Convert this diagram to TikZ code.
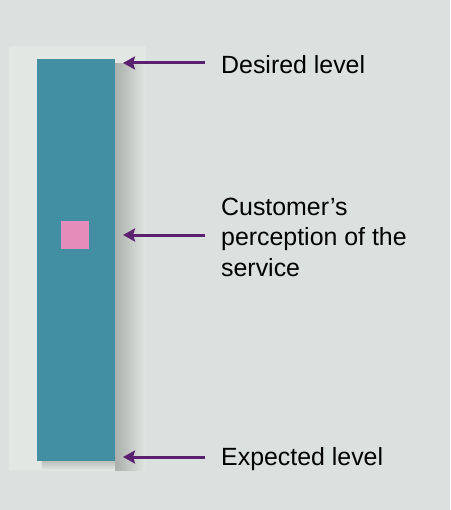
\documentclass[tikz,border=0pt]{standalone}
\usepackage{fontspec}
\setmainfont{Liberation Sans}
\usetikzlibrary{arrows.meta}
\definecolor{bg}{HTML}{DCE0DF}
\definecolor{panel}{HTML}{E3E7E4}
\definecolor{barc}{HTML}{428EA2}
\definecolor{pinkc}{HTML}{E48DBA}
\definecolor{arrc}{HTML}{5B2170}
\definecolor{shad}{HTML}{AAAFAB}
\tikzset{
  lvlarrow/.style={draw=arrc, line width=3pt, -{Stealth[length=12pt,width=13pt,inset=2pt]}},
  lbl/.style={anchor=west, inner sep=0pt, font=\fontsize{24.9}{30.5}\selectfont, align=left, text=black}
}
\begin{document}
\begin{tikzpicture}[x=1pt,y=-1pt]
\fill[bg] (0,0) rectangle (450,510);
\useasboundingbox (0,0) rectangle (450,510);
\fill[panel] (9,46) rectangle (146,470);
% shadow
\shade[left color=shad, right color=panel] (115,64) rectangle (146,470);
\shade[top color=shad!70!panel, bottom color=panel] (42,461) rectangle (115,470);
\node[fill=barc, draw=none, minimum width=78pt, minimum height=402pt, inner sep=0pt, anchor=north west] (bar) at (37,59) {};
\node[fill=pinkc, minimum size=28pt, inner sep=0pt] (pk) at (75,235) {};
\coordinate (t1) at (123,63);
\coordinate (t2) at (123,235);
\coordinate (t3) at (123,457);
\node[lbl] (d) at (221,65) {Desired level};
\node[lbl] (c) at (221,237) {Customer’s\\perception of the\\service};
\node[lbl] (e) at (221,459) {Expected level};
\draw[lvlarrow] (205,63) coordinate (s1) -- (t1);
\draw[lvlarrow] (205,235) coordinate (s2) -- (t2);
\draw[lvlarrow] (205,457) coordinate (s3) -- (t3);
\end{tikzpicture}
\end{document}
